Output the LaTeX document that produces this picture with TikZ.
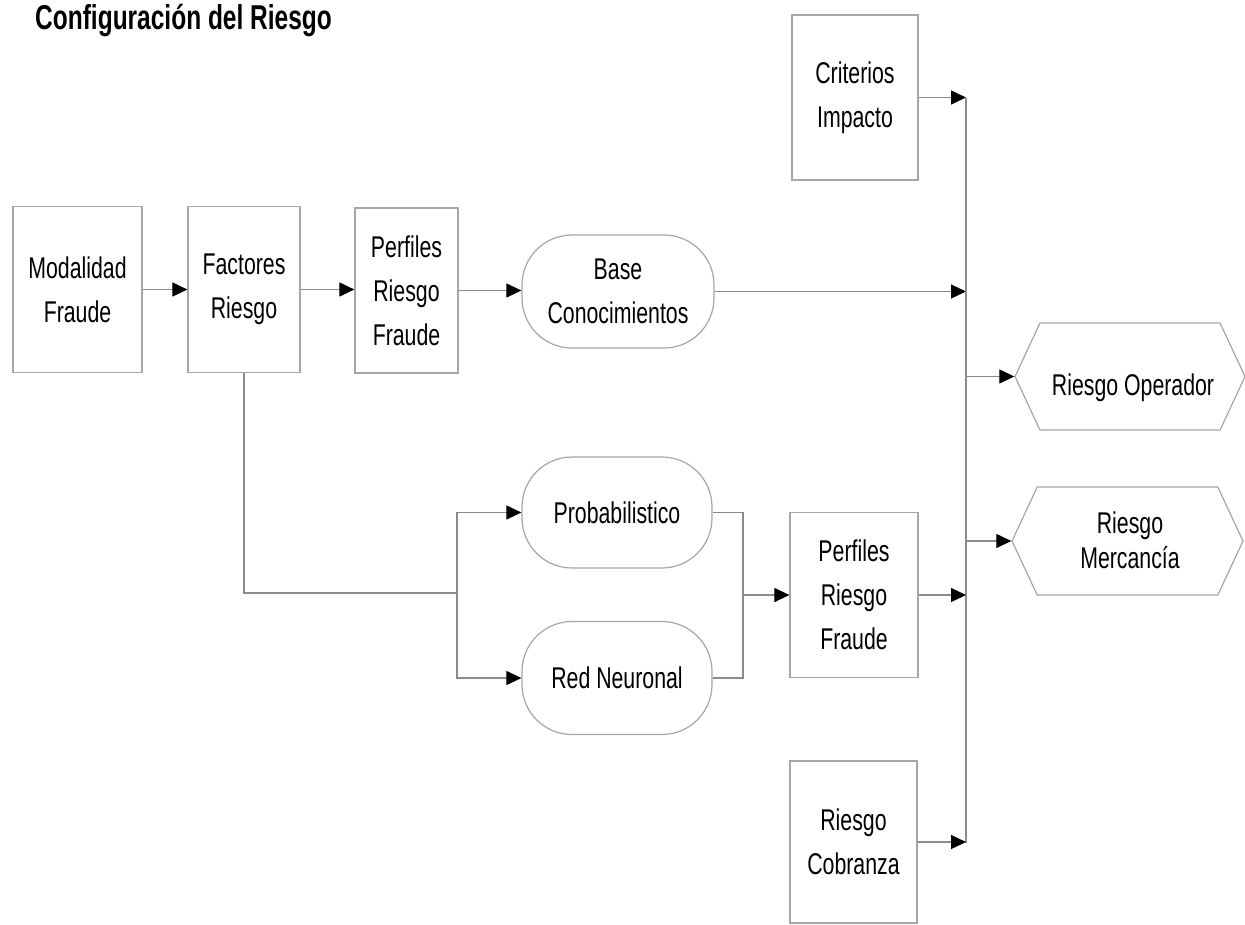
\documentclass[tikz,border=0pt]{standalone}
\usepackage{fontspec}
\setmainfont{Liberation Sans}[FakeStretch=0.71]
\usetikzlibrary{arrows.meta,shapes.symbols}
\begin{document}
\begin{tikzpicture}[x=1pt,y=-1pt,
  txt/.style={font=\fontsize{30}{44}\selectfont, align=center, inner sep=0pt, text=black},
  boxnode/.style={txt, draw=black!35, line width=1.2pt},
  capsule/.style={boxnode, rounded corners=50pt},
  hexnode/.style={boxnode, signal, signal to=west and east, signal pointer angle=130},
  wire/.style={draw=black!45, line width=1.1pt},
  conn/.style={wire, -{Triangle[length=15pt,width=14pt,color=black]}}
]
\useasboundingbox (0,0) rectangle (1245,924);

% title
\node[anchor=base west, inner sep=0pt, font=\fontsize{34.5}{40}\selectfont\bfseries] (title) at (35,29) {Configuración del Riesgo};

% upper chain
\node[boxnode, minimum width=129pt, minimum height=166pt] (mod) at (77.5,289.5) {Modalidad\\Fraude};
\node[boxnode, minimum width=112pt, minimum height=166pt] (fac) at (244,289.5) {Factores\\Riesgo};
\node[boxnode, minimum width=103pt, minimum height=165pt] (pf1) at (406.5,290.5) {Perfiles\\Riesgo\\Fraude};
\node[capsule, minimum width=192pt, minimum height=113pt] (base) at (618,291.5) {Base\\Conocimientos};

% lower branch
\node[capsule, minimum width=190pt, minimum height=111pt] (prob) at (617,512.5) {Probabilistico};
\node[capsule, minimum width=190pt, minimum height=113pt] (red) at (617,678) {Red Neuronal};
\node[boxnode, minimum width=128pt, minimum height=165pt] (pf2) at (854,595) {Perfiles\\Riesgo\\Fraude};

% right column
\node[boxnode, minimum width=126pt, minimum height=165pt] (crit) at (855,97.5) {Criterios\\Impacto};
\node[boxnode, minimum width=127pt, minimum height=162pt] (cob) at (853.5,842) {Riesgo\\Cobranza};
\node[hexnode, minimum width=230pt, minimum height=107pt] (op) at (1130,376.5) {};
\node[txt] (optxt) at (1133,388) {Riesgo Operador};
\node[hexnode, minimum width=231pt, minimum height=108pt] (mer) at (1127.5,541) {};
\node[txt, font=\fontsize{30}{35}\selectfont] (mertxt) at (1130,540) {Riesgo\\Mercancía};

% junction points
\coordinate (bustop) at (966,98);
\coordinate (busbot) at (966,843);
\coordinate (split) at (457,593);
\coordinate (merge) at (743,595);

% connectors
\draw[conn] (mod.east) -- (mod.east -| fac.west);
\draw[conn] (fac.east) -- (fac.east -| pf1.west);
\draw[conn] (pf1.east) -- (pf1.east -| base.west);
\draw[conn] (base.east) -- (base.east -| bustop);
\draw[conn] (crit.east) -- (crit.east -| bustop);
\draw[wire] (bustop) -- (busbot);
\draw[conn] (op.west -| bustop) -- (op.west);
\draw[conn] (mer.west -| bustop) -- (mer.west);
\draw[conn] (pf2.east) -- (pf2.east -| bustop);
\draw[conn] (cob.east) -- (cob.east -| bustop);

\draw[wire] (fac.south) -- (fac.south |- split) -- (split);
\draw[conn] (split) |- (prob.west);
\draw[conn] (split) |- (red.west);
\draw[wire] (prob.east) -| (merge);
\draw[wire] (red.east) -| (merge);
\draw[conn] (merge) -- (pf2.west);
\end{tikzpicture}
\end{document}
